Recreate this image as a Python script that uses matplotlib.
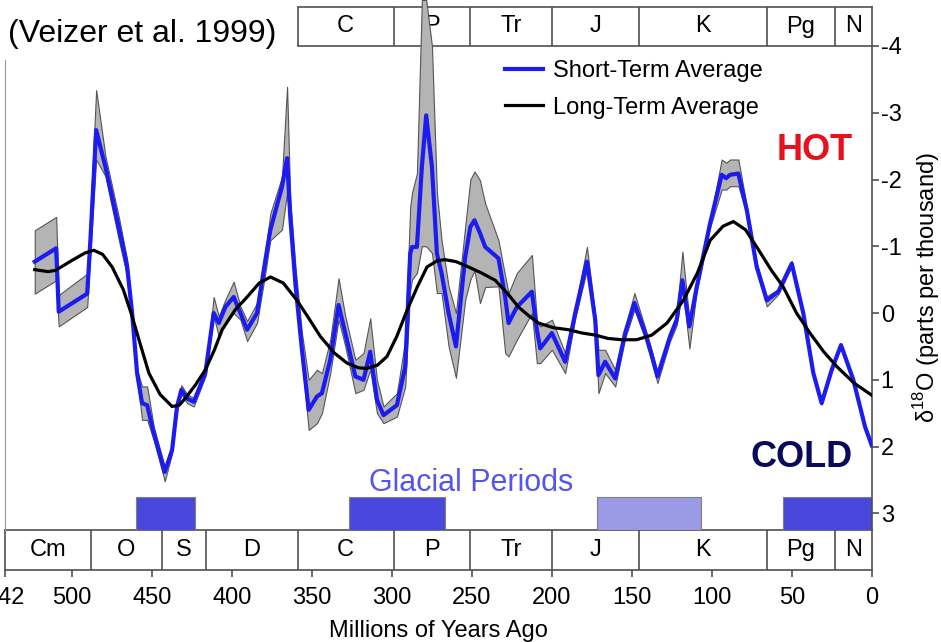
import matplotlib.pyplot as plt
from matplotlib.patches import Rectangle

plt.rcParams['font.family'] = ['Liberation Sans', 'DejaVu Sans']
plt.rcParams['axes.unicode_minus'] = False
plt.rcParams['mathtext.fontset'] = 'custom'
plt.rcParams['mathtext.rm'] = 'Liberation Sans'

# geologic periods (Myr ago)
period_names = ['Cm', 'O', 'S', 'D', 'C', 'P', 'Tr', 'J', 'K', 'Pg', 'N']
period_bounds = [542, 488, 444, 416, 359, 299, 251, 200, 145.5, 65.5, 23, 0]

# glacial periods
glac_start = [460, 327, 172, 55.6]
glac_end = [423, 267, 107, 0]
glac_color = ['#4848dc', '#4848dc', '#9a9ae6', '#4848dc']

# short-term average with uncertainty band (delta 18O, per mil)
st_age = [523.4, 510.0, 508.4, 490.6, 488.6, 485.0, 479.2, 470.9, 465.6, 462.5,
          459.4, 456.3, 453.1, 449.0, 442.1, 437.5, 434.4, 431.7, 428.1, 424.0,
          416.7, 411.5, 408.3, 404.2, 399.0, 394.8, 390.6, 384.4, 379.2, 376.1,
          368.8, 365.6, 363.6, 360.4, 356.3, 352.1, 346.9, 343.8, 338.6, 333.4,
          329.2, 322.9, 317.8, 313.6, 309.4, 305.3, 296.9, 291.7, 288.6, 287.5,
          284.4, 281.3, 278.6, 275.0, 271.9, 269.0, 264.6, 260.0, 254.2, 251.0,
          248.4, 245.0, 241.7, 233.4, 229.2, 227.1, 221.9, 212.5, 209.4, 207.3,
          200.0, 191.7, 185.4, 178.1, 172.9, 170.9, 166.7, 160.4, 154.2, 148.4,
          141.7, 138.0, 134.0, 126.1, 121.9, 118.4, 114.0, 109.4, 101.1, 93.8,
          91.0, 88.6, 83.4, 78.1, 71.9, 65.6, 58.4, 50.0, 42.8, 36.5,
          31.3, 25.0, 19.2, 11.5, 4.2, 0.0]
st_val = [-0.77, -0.97, -0.02, -0.29, -1.09, -2.74, -2.19, -1.29, -0.69, 0.00,
          0.90, 1.35, 1.38, 1.80, 2.38, 2.05, 1.40, 1.15, 1.28, 1.33,
          0.90, 0.00, 0.15, -0.09, -0.24, 0.00, 0.25, 0.00, -0.79, -1.24,
          -1.89, -2.32, -1.44, -0.44, 0.55, 1.45, 1.25, 1.20, 0.70, -0.12,
          0.30, 0.95, 1.00, 0.58, 1.30, 1.53, 1.38, 0.80, -0.89, -0.99,
          -0.99, -2.19, -2.96, -2.19, -0.89, -0.60, 0.00, 0.50, -0.84, -1.29,
          -1.39, -1.20, -0.99, -0.82, -0.24, 0.15, -0.09, -0.32, 0.25, 0.53,
          0.30, 0.73, 0.00, -0.77, 0.10, 0.93, 0.73, 0.98, 0.30, -0.15,
          0.30, 0.60, 0.95, 0.35, 0.10, -0.49, 0.20, -0.39, -1.34, -2.07,
          -2.02, -2.07, -2.09, -1.54, -0.69, -0.19, -0.32, -0.74, 0.00, 0.90,
          1.35, 0.85, 0.48, 1.00, 1.70, 1.98]
st_top = [-1.24, -1.44, -0.27, -0.59, -1.50, -3.34, -2.35, -1.45, -0.80, -0.05,
          0.85, 1.10, 1.10, 1.70, 2.30, 2.00, 1.35, 1.08, 1.22, 1.27,
          0.85, -0.24, 0.05, -0.20, -0.47, -0.10, 0.12, -0.15, -0.90, -1.49,
          -2.04, -3.39, -1.70, -0.70, 0.30, 1.00, 0.85, 0.90, 0.40, -0.52,
          0.05, 0.70, 0.60, 0.08, 1.00, 1.40, 1.20, 0.40, -1.59, -1.80,
          -2.09, -4.69, -4.69, -4.00, -1.80, -1.09, -0.40, 0.00, -1.30, -2.00,
          -2.12, -1.99, -1.64, -1.09, -0.55, -0.30, -0.60, -0.87, 0.10, 0.20,
          0.10, 0.60, -0.08, -0.99, 0.02, 0.55, 0.55, 0.85, 0.22, -0.30,
          0.22, 0.52, 0.88, 0.28, 0.02, -0.92, 0.10, -0.45, -1.40, -2.30,
          -2.25, -2.30, -2.30, -1.60, -0.75, -0.25, -0.36, -0.78, -0.02, 0.88,
          1.33, 0.83, 0.46, 0.98, 1.68, 1.96]
st_bot = [-0.29, -0.49, 0.20, -0.09, -0.90, -2.30, -2.05, -1.10, -0.55, 0.05,
          0.95, 1.60, 1.60, 1.90, 2.52, 2.10, 1.45, 1.22, 1.35, 1.40,
          0.95, 0.05, 0.35, 0.15, 0.00, 0.10, 0.42, 0.15, -0.60, -1.09,
          -1.25, -1.80, -1.30, -0.30, 0.70, 1.75, 1.65, 1.50, 0.90, 0.10,
          0.50, 1.20, 1.15, 0.85, 1.50, 1.65, 1.55, 1.10, -0.34, -0.50,
          -0.60, -1.00, -1.00, -0.90, -0.30, -0.30, 0.50, 0.97, -0.20, -0.50,
          -0.64, -0.15, -0.39, -0.40, 0.60, 0.65, 0.40, 0.00, 0.75, 0.75,
          0.55, 0.90, 0.08, -0.65, 0.18, 1.20, 0.90, 1.10, 0.38, -0.05,
          0.38, 0.68, 1.05, 0.42, 0.18, -0.40, 0.53, -0.33, -1.28, -1.85,
          -1.85, -1.90, -1.90, -1.48, -0.63, -0.10, -0.28, -0.70, 0.02, 0.92,
          1.37, 0.87, 0.50, 1.02, 1.72, 2.00]

# long-term average
lt_age = [523.4, 515, 510.4, 500, 492, 486.5, 481, 475, 468, 462.5,
          457, 452, 445, 437.5, 433, 429, 423, 416.7, 411, 406.2,
          398, 390.6, 383, 376, 368, 359.4, 352, 344.8, 336, 328.1,
          321, 315.6, 309, 303.1, 297, 290.6, 284, 278.1, 272, 267,
          260, 252.1, 244, 235.4, 228, 220.9, 214, 208.4, 199, 189.6,
          181, 172.9, 165, 156.3, 147, 137.5, 128, 117.8, 109, 101,
          93, 86.5, 79, 71.9, 63, 55.3, 47, 38.6, 30, 21.9, 11, 0]
lt_val = [-0.65, -0.62, -0.64, -0.79, -0.90, -0.94, -0.88, -0.69, -0.35, 0.05,
          0.50, 0.90, 1.22, 1.40, 1.38, 1.27, 1.08, 0.85, 0.55, 0.25,
          -0.05, -0.24, -0.45, -0.54, -0.45, -0.19, 0.08, 0.35, 0.60, 0.75,
          0.82, 0.83, 0.78, 0.65, 0.35, -0.04, -0.40, -0.69, -0.78, -0.80,
          -0.77, -0.69, -0.60, -0.49, -0.30, -0.09, 0.05, 0.15, 0.22, 0.25,
          0.30, 0.33, 0.38, 0.40, 0.40, 0.33, 0.15, -0.19, -0.60, -1.09,
          -1.30, -1.37, -1.25, -0.99, -0.65, -0.39, 0.00, 0.30, 0.58, 0.80, 1.05, 1.23]

W, H = 941, 642
box_color = '#505050'
fs = 17


def fig_rect(x0, y0, x1, y1):
    # pixel box (top-left origin) -> figure fraction rect
    return [x0 / W, 1 - y1 / H, (x1 - x0) / W, (y1 - y0) / H]


def draw_periods(a, oldest_label=542):
    a.set_xlim(542, 0)
    a.set_ylim(0, 1)
    a.set_yticks([])
    for b in period_bounds[1:-1]:
        a.axvline(b, color=box_color, lw=1.2)
    for name, lo, hi in zip(period_names, period_bounds[:-1], period_bounds[1:]):
        if lo <= oldest_label:
            a.text((lo + hi) / 2, 0.5, name, ha='center', va='center', fontsize=fs)
    for s in a.spines.values():
        s.set_color(box_color)
        s.set_linewidth(1.2)


fig = plt.figure(figsize=(W / 100, H / 100), dpi=100)

# top bar: the older labels sit under the citation box anyway
ax_top = fig.add_axes(fig_rect(5, 7, 871.7, 46))
draw_periods(ax_top, oldest_label=359)
ax_top.set_xticks([])

ax_bot = fig.add_axes(fig_rect(5, 530, 871.7, 570))
draw_periods(ax_bot)
ax_bot.set_xticks([542, 500, 450, 400, 350, 300, 250, 200, 150, 100, 50, 0])
ax_bot.tick_params(axis='x', direction='out', length=5, width=1.2, color=box_color,
                   labelsize=fs, pad=7)
ax_bot.set_xlabel('Millions of Years Ago', fontsize=fs, labelpad=8)

ax = fig.add_axes(fig_rect(5, 46, 871.7, 530))
ax.set_zorder(3)
ax.patch.set_visible(False)
ax.set_xlim(542, 0)
ax.set_ylim(3.25, -4)

ax.fill_between(st_age, st_top, st_bot, facecolor='#b4b4b4', edgecolor='#555555',
                linewidth=0.8, clip_on=False, zorder=1)
ax.plot(st_age, st_val, color='#1c1cf2', lw=3.0, solid_joinstyle='round',
        label='Short-Term Average', zorder=3)
ax.plot(lt_age, lt_val, color='black', lw=2.3, solid_joinstyle='round',
        label='Long-Term Average', zorder=4)

for s, e, c in zip(glac_start, glac_end, glac_color):
    ax.bar((s + e) / 2, 0.5, width=s - e, bottom=2.75, color=c,
           edgecolor='#808080', linewidth=0.8, zorder=2)

ax.spines['top'].set_visible(False)
ax.spines['bottom'].set_visible(False)
ax.spines['left'].set_color('#999999')
ax.spines['right'].set_color(box_color)
ax.spines['right'].set_linewidth(1.2)
ax.set_xticks([])
ax.yaxis.tick_right()
ax.yaxis.set_label_position('right')
ax.set_yticks([-4, -3, -2, -1, 0, 1, 2, 3])
ax.tick_params(axis='y', direction='out', length=5, width=1.2, color=box_color,
               labelsize=fs, pad=1.5)
ax.set_ylabel('δ$^{18}$O (parts per thousand)', fontsize=fs, labelpad=7)

ax.legend(loc='upper left', bbox_to_anchor=(505 / W, 1 - 60 / H),
          bbox_transform=fig.transFigure, frameon=False, fontsize=fs,
          borderpad=0, borderaxespad=0, handlelength=1.6, handletextpad=0.42,
          labelspacing=0.62)

fig.text(853 / W, 1 - 160 / H, 'HOT', color='#e8101a', fontsize=26,
         fontweight='bold', ha='right', va='baseline')
fig.text(853 / W, 1 - 467 / H, 'COLD', color='#0a0a5c', fontsize=26,
         fontweight='bold', ha='right', va='baseline')
fig.text(471.5 / W, 1 - 491 / H, 'Glacial Periods', color='#5555ee', fontsize=22,
         ha='center', va='baseline', zorder=5)

# white box behind the citation, as in the original
fig.patches.append(Rectangle((0, 1 - 60 / H), 297 / W, 60 / H, transform=fig.transFigure,
                             facecolor='white', edgecolor='none', zorder=10))
fig.text(8 / W, 1 - 41.7 / H, '(Veizer et al. 1999)', fontsize=23, ha='left',
         va='baseline', zorder=11)

fig.savefig('out.png', dpi=100)
